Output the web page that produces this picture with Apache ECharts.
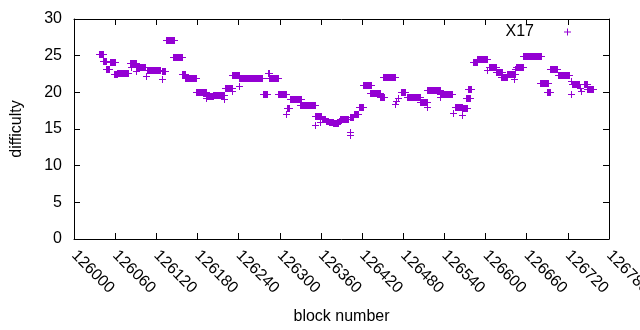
<!DOCTYPE html>
<html>
<head>
<meta charset="utf-8">
<script src="https://cdn.jsdelivr.net/npm/echarts@6/dist/echarts.min.js"></script>
<style>
  html, body { margin: 0; padding: 0; background: #fff; }
  #chart { width: 640px; height: 330px; }
</style>
</head>
<body>
<div id="chart"></div>
<script>
// runs of consecutive blocks that share one difficulty value
const runFrom = [
  126036, 126043, 126047, 126053, 126058, 126062, 126082, 126083, 126091, 126091,
  126105, 126107, 126128, 126128, 126134, 126145, 126157, 126162, 126178, 126192,
  126193, 126203, 126219, 126220, 126230, 126230, 126240, 126241, 126275, 126283,
  126285, 126297, 126309, 126311, 126315, 126330, 126351, 126352, 126359, 126361,
  126367, 126372, 126378, 126386, 126388, 126402, 126403, 126403, 126408, 126416,
  126422, 126432, 126446, 126451, 126468, 126470, 126473, 126477, 126485, 126505,
  126515, 126514, 126533, 126534, 126552, 126555, 126565, 126565, 126572, 126575,
  126582, 126588, 126602, 126605, 126615, 126623, 126631, 126642, 126643, 126644,
  126655, 126680, 126690, 126694, 126705, 126724, 126724, 126726, 126738, 126739,
  126743, 126748
];
const runTo = [
  126042, 126046, 126051, 126060, 126062, 126079, 126091, 126083, 126104, 126091,
  126105, 126126, 126133, 126128, 126146, 126158, 126162, 126178, 126192, 126192,
  126203, 126219, 126219, 126230, 126230, 126240, 126240, 126274, 126282, 126285,
  126298, 126309, 126309, 126313, 126331, 126351, 126360, 126352, 126359, 126366,
  126371, 126377, 126385, 126388, 126400, 126402, 126403, 126407, 126414, 126421,
  126433, 126446, 126452, 126468, 126468, 126470, 126473, 126483, 126504, 126514,
  126515, 126534, 126533, 126551, 126552, 126565, 126573, 126565, 126577, 126579,
  126588, 126602, 126602, 126615, 126624, 126631, 126643, 126642, 126643, 126654,
  126681, 126691, 126694, 126704, 126722, 126724, 126724, 126736, 126738, 126739,
  126748, 126757
];
const runDifficulty = [
  25.2, 24.3, 23.2, 24.1, 22.5, 22.6, 24.0, 23.4, 23.45, 22.9,
  22.2, 23.0, 22.85, 21.85, 27.15, 24.8, 22.5, 21.95, 20.0, 19.2,
  19.5, 19.7, 19.1, 20.55, 20.2, 22.35, 20.8, 21.95, 19.75, 22.7,
  21.95, 19.75, 17.0, 17.8, 19.05, 18.25, 16.8, 15.5, 16.0, 16.4,
  16.15, 15.9, 15.8, 16.15, 16.3, 14.65, 14.2, 16.7, 17.05, 18.0,
  21.0, 19.9, 19.4, 22.1, 18.4, 18.85, 19.2, 20.1, 19.4, 18.75,
  18.05, 20.35, 19.4, 19.75, 17.15, 18.05, 17.8, 16.9, 19.2, 20.4,
  24.2, 24.55, 23.1, 23.45, 22.75, 22.1, 22.5, 21.85, 23.2, 23.5,
  24.95, 21.25, 20.1, 23.2, 22.35, 19.8, 21.5, 21.15, 20.6, 20.2,
  21.15, 20.45
];

const xTicks = { min: 126000, max: 126780, step: 60 };
const yTicks = { min: 0, max: 30, step: 5 };

const purple = '#9400d3';
const font = 'Liberation Sans, Arial, sans-serif';

const runs = runFrom.map((s, i) => [s, runTo[i], runDifficulty[i]]);

// a run of "+" marks drawn one block apart merges into a bar with arms
function renderRun(params, api) {
  const a = api.coord([api.value(0), api.value(2)]);
  const b = api.coord([api.value(1), api.value(2)]);
  const x0 = Math.round(a[0]);
  const x1 = Math.round(b[0]);
  const y = Math.round(a[1]);
  const color = api.visual('color');
  return {
    type: 'group',
    children: [
      {
        type: 'rect',
        shape: { x: x0, y: y - 3, width: x1 - x0 + 1, height: 7 },
        style: { fill: color }
      },
      {
        type: 'line',
        shape: { x1: x0 - 3, y1: y + 0.5, x2: x1 + 4, y2: y + 0.5 },
        style: { stroke: color, lineWidth: 1 }
      }
    ]
  };
}

const chart = echarts.init(document.getElementById('chart'));

const baseX = {
  type: 'value',
  min: xTicks.min,
  max: xTicks.max,
  interval: xTicks.step,
  splitLine: { show: false },
  axisLine: { onZero: false, lineStyle: { color: '#000', width: 1 } },
  axisTick: { inside: true, length: 6, lineStyle: { color: '#000' } }
};
const baseY = {
  type: 'value',
  min: yTicks.min,
  max: yTicks.max,
  interval: yTicks.step,
  splitLine: { show: false },
  axisLine: { onZero: false, lineStyle: { color: '#000', width: 1 } },
  axisTick: { inside: true, length: 6, lineStyle: { color: '#000' } }
};

chart.setOption({
  animation: false,
  backgroundColor: '#fff',
  textStyle: { fontFamily: font },
  grid: { left: 74, right: 31, top: 19, bottom: 91, containLabel: false, outerBoundsMode: 'none' },
  legend: {
    data: [{ name: 'X17', icon: 'path://M3,0H4V3H7V4H4V7H3V4H0V3H3Z' }],
    top: 24,
    right: 69,
    padding: 0,
    align: 'right',
    itemWidth: 7,
    itemHeight: 7,
    selectedMode: false,
    textStyle: { fontFamily: font, fontSize: 16, color: '#000', padding: [0, 25, 0, 0] }
  },
  xAxis: [
    Object.assign({}, baseX, {
      position: 'bottom',
      name: 'block number',
      nameLocation: 'middle',
      nameGap: 70,
      nameTextStyle: { fontFamily: font, fontSize: 16, color: '#000' },
      axisLabel: {
        rotate: -45,
        margin: 14,
        fontFamily: font,
        fontSize: 16,
        color: '#000',
        showMaxLabel: true,
        hideOverlap: false,
        formatter: v => String(v)
      }
    }),
    Object.assign({}, baseX, { position: 'top', axisLabel: { show: false } })
  ],
  yAxis: [
    Object.assign({}, baseY, {
      position: 'left',
      name: 'difficulty',
      nameLocation: 'middle',
      nameGap: 49,
      nameTextStyle: { fontFamily: font, fontSize: 16, color: '#000' },
      axisLabel: { margin: 12, fontFamily: font, fontSize: 16, color: '#000' }
    }),
    Object.assign({}, baseY, { position: 'right', axisLabel: { show: false } })
  ],
  series: [
    {
      name: 'X17',
      type: 'custom',
      renderItem: renderRun,
      itemStyle: { color: purple },
      encode: { x: [0, 1], y: 2 },
      data: runs
    }
  ]
});
</script>
</body>
</html>
